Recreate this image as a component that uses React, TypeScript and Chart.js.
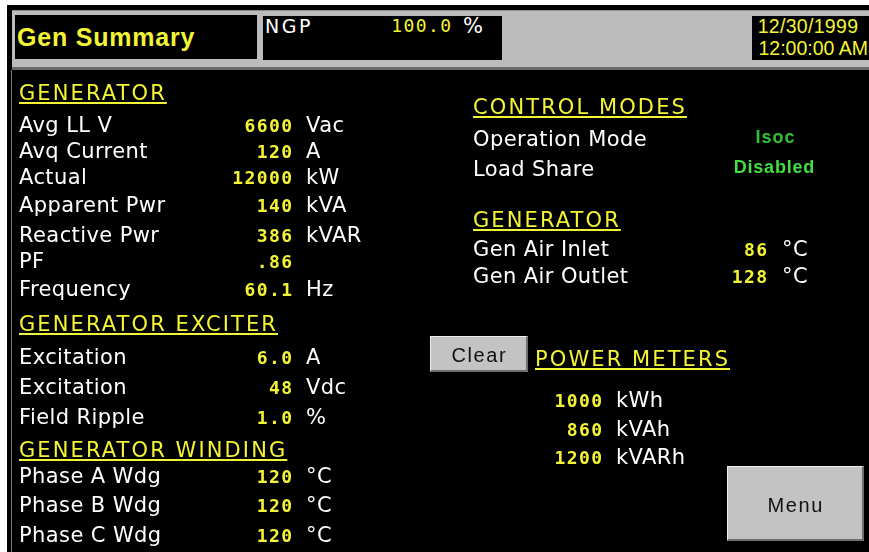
import React, { useEffect, useRef } from "react";
import { Chart, registerables } from "chart.js";

Chart.register(...registerables);

// ---- data ----
const TITLE = "Gen Summary";
const NGP_LABEL = "NGP";
const NGP_VALUE = "100.0";
const NGP_UNIT = "%";
const DATE_TEXT = "12/30/1999";
const TIME_TEXT = "12:00:00 AM";

const GEN_HEADER = "GENERATOR";
const GEN_LABELS = ["Avg LL V", "Avq Current", "Actual", "Apparent Pwr", "Reactive Pwr", "PF", "Frequency"];
const GEN_VALUES = ["6600", "120", "12000", "140", "386", ".86", "60.1"];
const GEN_UNITS = ["Vac", "A", "kW", "kVA", "kVAR", "", "Hz"];

const EXC_HEADER = "GENERATOR EXCITER";
const EXC_LABELS = ["Excitation", "Excitation", "Field Ripple"];
const EXC_VALUES = ["6.0", "48", "1.0"];
const EXC_UNITS = ["A", "Vdc", "%"];

const WDG_HEADER = "GENERATOR WINDING";
const WDG_LABELS = ["Phase A Wdg", "Phase B Wdg", "Phase C Wdg"];
const WDG_VALUES = ["120", "120", "120"];
const WDG_UNITS = ["°C", "°C", "°C"];

const CTRL_HEADER = "CONTROL MODES";
const CTRL_LABELS = ["Operation Mode", "Load Share"];
const CTRL_VALUES = ["Isoc", "Disabled"];

const AIR_HEADER = "GENERATOR";
const AIR_LABELS = ["Gen Air Inlet", "Gen Air Outlet"];
const AIR_VALUES = ["86", "128"];
const AIR_UNITS = ["°C", "°C"];

const PM_HEADER = "POWER METERS";
const PM_VALUES = ["1000", "860", "1200"];
const PM_UNITS = ["kWh", "kVAh", "kVARh"];

const CLEAR_TEXT = "Clear";
const MENU_TEXT = "Menu";

// ---- layout ----
const GEN_Y = [124, 150.5, 176.5, 204, 234, 260, 288];
const EXC_Y = [356, 386, 416];
const WDG_Y = [475.5, 504, 534];
const CTRL_Y = [138, 168];
const CTRL_VAL_Y = [136, 165.5];
const AIR_Y = [248.5, 275];
const PM_Y = [399.5, 428.5, 456.5];

const YELLOW = "#f4f436";
const SANS = "'Liberation Sans', Arial, sans-serif";
const DEJA = "'DejaVu Sans', sans-serif";
const MONO = "'DejaVu Sans Mono', monospace";

type TP = {
  x: number;
  cy: number;
  size: number;
  color?: string;
  deja?: boolean;
  mono?: boolean;
  bold?: boolean;
  ls?: number;
  align?: "left" | "right" | "center";
  underline?: boolean;
  family?: string;
  children: React.ReactNode;
};

function T({ x, cy, size, color = "#fff", deja = false, mono = false, bold = false, ls = 0, align = "left", underline = false, family, children }: TP) {
  const f = mono || deja ? 0.4815 : 0.4885;
  const top = cy - f * size + 0.8;
  const W = 400;
  let left = x;
  if (align === "right") left = x - W + ls;
  if (align === "center") left = x - W / 2 + ls / 2;
  return (
    <div
      style={{
        position: "absolute",
        top,
        left,
        width: align === "left" ? undefined : W,
        textAlign: align,
        fontSize: size,
        lineHeight: `${size}px`,
        fontFamily: family || (mono ? MONO : deja ? DEJA : SANS),
        fontWeight: bold ? 700 : 400,
        color,
        letterSpacing: ls,
        whiteSpace: "pre",
        textDecoration: underline ? "underline" : "none",
        textDecorationThickness: underline ? "2px" : undefined,
        textUnderlineOffset: underline ? "2px" : undefined,
      }}
    >
      {children}
    </div>
  );
}

const LBL = 21;
const LBL_LS = 0.4;
const HDR_LS = 2.1;
const VAL = 18;
const VAL_LS = 1.4;

function Rows({ labels, values, units, ys, lx, vx, ux }: { labels?: string[]; values: string[]; units: string[]; ys: number[]; lx: number; vx: number; ux: number }) {
  return (
    <>
      {values.map((v, i) => (
        <React.Fragment key={i}>
          {labels && (
            <T x={lx} cy={ys[i]} size={LBL} deja ls={LBL_LS}>
              {labels[i]}
            </T>
          )}
          <T x={vx} cy={ys[i] + 0.5} size={VAL} mono bold ls={VAL_LS} align="right" color={YELLOW}>
            {v}
          </T>
          <T x={ux} cy={ys[i]} size={LBL} deja ls={LBL_LS}>
            {units[i]}
          </T>
        </React.Fragment>
      ))}
    </>
  );
}

function Header({ x, cy, text }: { x: number; cy: number; text: string }) {
  return (
    <T x={x} cy={cy} size={LBL} deja ls={HDR_LS} underline color={YELLOW}>
      {text}
    </T>
  );
}

function Button({ x, y, w, h, text }: { x: number; y: number; w: number; h: number; text: string }) {
  return (
    <div
      style={{
        position: "absolute",
        left: x,
        top: y,
        width: w,
        height: h,
        boxSizing: "border-box",
        background: "#c3c3c3",
        borderTop: "1px solid #eeeeee",
        borderLeft: "1px solid #eeeeee",
        borderRight: "2px solid #6e6e6e",
        borderBottom: "2px solid #6e6e6e",
      }}
    >
      <T x={(w - 3) / 2} cy={h / 2 - 1} size={20} ls={1.6} align="center" color="#111">
        {text}
      </T>
    </div>
  );
}

export default function App() {
  const canvasRef = useRef<HTMLCanvasElement | null>(null);

  useEffect(() => {
    const canvas = canvasRef.current;
    if (!canvas) return;
    const bgPlugin = {
      id: "panelBg",
      beforeDraw(chart: any) {
        const { ctx, width, height } = chart;
        ctx.save();
        ctx.fillStyle = "#000";
        ctx.fillRect(0, 0, width, height);
        ctx.restore();
      },
    };
    const chart = new Chart(canvas, {
      type: "bar",
      data: { labels: [], datasets: [] },
      options: {
        animation: false,
        responsive: false,
        maintainAspectRatio: false,
        events: [],
        plugins: { legend: { display: false }, tooltip: { enabled: false }, title: { display: false } },
        scales: { x: { display: false }, y: { display: false } },
      },
      plugins: [bgPlugin],
    });
    return () => chart.destroy();
  }, []);

  return (
    <div style={{ position: "fixed", left: 0, top: 0, width: 869, height: 552, background: "#fff", overflow: "hidden" }}>
      {/* outer black frame */}
      <div style={{ position: "absolute", left: 7, top: 5, right: 0, bottom: 0, background: "#000" }} />
      {/* grey header band */}
      <div style={{ position: "absolute", left: 12, top: 10, width: 857, height: 57, background: "#bcbcbc", borderTop: "1px solid #8a8a8a" }} />
      <div style={{ position: "absolute", left: 12, top: 67, width: 857, height: 3, background: "#6a6a6a" }} />
      {/* main chart canvas panel */}
      <canvas ref={canvasRef} width={857} height={482} style={{ position: "absolute", left: 12, top: 70, width: 857, height: 482 }} />
      <div style={{ position: "absolute", left: 11, top: 70, width: 1, height: 482, background: "#7a7a7a" }} />

      {/* title box */}
      <div style={{ position: "absolute", left: 15, top: 15, width: 242, height: 44, background: "#000" }} />
      <T x={17} cy={36.5} size={25} bold ls={0.8} color={YELLOW}>
        {TITLE}
      </T>

      {/* NGP box */}
      <div style={{ position: "absolute", left: 263, top: 16, width: 239, height: 44, background: "#000" }} />
      <T x={265} cy={25} size={19} deja ls={2.5}>
        {NGP_LABEL}
      </T>
      <T x={451} cy={25} size={VAL} mono ls={VAL_LS} align="right" color={YELLOW}>
        {NGP_VALUE}
      </T>
      <T x={463} cy={25} size={21} deja>
        {NGP_UNIT}
      </T>

      {/* date box */}
      <div style={{ position: "absolute", left: 752, top: 16, width: 117, height: 44, background: "#000" }} />
      <T x={858} cy={25.5} size={19.5} ls={0.3} align="right" color={YELLOW}>
        {DATE_TEXT}
      </T>
      <T x={868} cy={47.5} size={19.5} ls={0} align="right" color={YELLOW}>
        {TIME_TEXT}
      </T>

      {/* left column */}
      <Header x={19} cy={92} text={GEN_HEADER} />
      <Rows labels={GEN_LABELS} values={GEN_VALUES} units={GEN_UNITS} ys={GEN_Y} lx={19} vx={292} ux={306} />

      <Header x={19} cy={323} text={EXC_HEADER} />
      <Rows labels={EXC_LABELS} values={EXC_VALUES} units={EXC_UNITS} ys={EXC_Y} lx={19} vx={292} ux={306} />

      <Header x={19} cy={449} text={WDG_HEADER} />
      <Rows labels={WDG_LABELS} values={WDG_VALUES} units={WDG_UNITS} ys={WDG_Y} lx={19} vx={292} ux={306} />

      {/* right column */}
      <Header x={473} cy={106.5} text={CTRL_HEADER} />
      {CTRL_LABELS.map((l, i) => (
        <T key={l} x={473} cy={CTRL_Y[i]} size={LBL} deja ls={LBL_LS}>
          {l}
        </T>
      ))}
      <T x={775} cy={CTRL_VAL_Y[0]} size={18} bold ls={1} align="center" color="#2fc42f">
        {CTRL_VALUES[0]}
      </T>
      <T x={774} cy={CTRL_VAL_Y[1]} size={18} bold ls={0.8} align="center" color="#3fe03f">
        {CTRL_VALUES[1]}
      </T>

      <Header x={473} cy={219} text={AIR_HEADER} />
      <Rows labels={AIR_LABELS} values={AIR_VALUES} units={AIR_UNITS} ys={AIR_Y} lx={473} vx={767} ux={782} />

      <Button x={430} y={336} w={98} h={36} text={CLEAR_TEXT} />
      <Header x={535} cy={358} text={PM_HEADER} />
      <Rows values={PM_VALUES} units={PM_UNITS} ys={PM_Y} lx={0} vx={602} ux={616} />

      <Button x={727} y={466} w={137} h={75} text={MENU_TEXT} />
    </div>
  );
}
